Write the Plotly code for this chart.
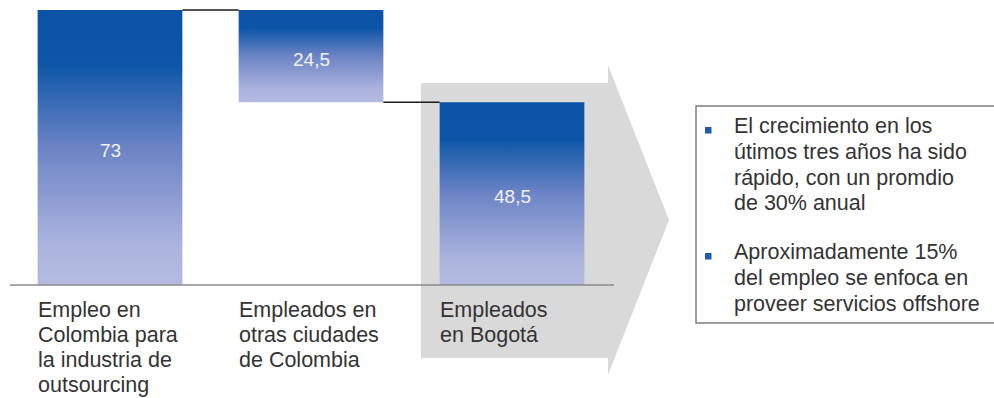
import plotly.graph_objects as go

# --- data -------------------------------------------------------------
categories = [
    ["Empleo en", "Colombia para", "la industria de", "outsourcing"],
    ["Empleados en", "otras ciudades", "de Colombia"],
    ["Empleados", "en Bogotá"],
]
total_colombia = 73
otras_ciudades = 24.5
bogota = 48.5

bullets = [
    ["El crecimiento en los", "útimos tres años ha sido",
     "rápido, con un promdio", "de 30% anual"],
    ["Aproximadamente 15%", "del empleo se enfoca en",
     "proveer servicios offshore"],
]

# waterfall geometry: (base, top) of each bar
bars = [
    (0, total_colombia),
    (total_colombia - otras_ciudades, total_colombia),
    (0, bogota),
]
values = [total_colombia, otras_ciudades, bogota]

W, H = 994, 398
BAR_W = 0.72
FONT = "Liberation Sans, Arial, sans-serif"
TEXT_SIZE = 21.5


def fx(p):
    return p / W


def fy(p):
    return 1 - p / H


def fmt(v):
    return f"{v:g}".replace(".", ",")


grad = [[0.0, "#B3BBE1"], [0.14, "#ACB4DE"], [0.5, "#6C84C5"],
        [0.8, "#0E56A8"], [1.0, "#0A52A5"]]

fig = go.Figure()

# gradient bars
for i, (b, t) in enumerate(bars):
    x0, x1 = i - BAR_W / 2, i + BAR_W / 2
    fig.add_trace(go.Scatter(
        x=[x0, x1, x1, x0, x0], y=[b, b, t, t, b],
        mode="lines", line=dict(width=0), fill="toself",
        fillgradient=dict(type="vertical", colorscale=grad, start=b, stop=t),
        hoverinfo="skip", showlegend=False,
    ))

# connectors between bars
fig.add_trace(go.Scatter(
    x=[0 + BAR_W / 2, 1 - BAR_W / 2], y=[bars[0][1], bars[1][1]],
    mode="lines", line=dict(color="#1a1a1a", width=1.5),
    hoverinfo="skip", showlegend=False))
fig.add_trace(go.Scatter(
    x=[1 + BAR_W / 2, 2 - BAR_W / 2], y=[bars[1][0], bars[2][1]],
    mode="lines", line=dict(color="#1a1a1a", width=1.5),
    hoverinfo="skip", showlegend=False))

annotations = []

# value labels in the middle of each bar
for i, ((b, t), v) in enumerate(zip(bars, values)):
    annotations.append(dict(
        x=i, y=(b + t) / 2, xref="x", yref="y", yshift=-3,
        text=fmt(v), showarrow=False, xanchor="center", yanchor="middle",
        font=dict(family=FONT, size=19, color="#F2F2F8"),
        borderpad=0, borderwidth=0))

shapes = []
# grey arrow behind the Bogotá bar
arrow = [(421, 83), (608, 83), (608, 65), (669, 220), (608, 375),
         (608, 358), (421, 358)]
path = "M " + " L ".join(f"{fx(x):.5f},{fy(y):.5f}" for x, y in arrow) + " Z"
shapes.append(dict(type="path", path=path, xref="paper", yref="paper",
                   fillcolor="#D9D9D9", line=dict(width=0), layer="below"))
# baseline
shapes.append(dict(type="line", xref="paper", yref="y",
                   x0=fx(10), x1=fx(614), y0=0, y1=0,
                   line=dict(color="#8A8A8A", width=1.5), layer="above"))
# text box
shapes.append(dict(type="rect", xref="paper", yref="paper",
                   x0=fx(696), x1=fx(1000), y0=fy(106), y1=fy(323),
                   fillcolor="white", line=dict(color="#7F7F7F", width=1.5),
                   layer="above"))

# category labels under the bars
label_y = [310, 335, 360, 385]
for i, lines in enumerate(categories):
    for j, line in enumerate(lines):
        annotations.append(dict(
            x=i - BAR_W / 2, y=fy(label_y[j]), xref="x", yref="paper",
            text=line, showarrow=False, xanchor="left", yanchor="middle",
            font=dict(family=FONT, size=TEXT_SIZE, color="#333333"),
            borderpad=0, borderwidth=0))

# bullet text
bullet_y = [[126, 152, 178, 203], [252, 278, 304]]
for k, lines in enumerate(bullets):
    y0 = bullet_y[k][0]
    shapes.append(dict(type="rect", xref="paper", yref="paper",
                       x0=fx(705), x1=fx(711.5), y0=fy(y0 + 1), y1=fy(y0 + 7.5),
                       fillcolor="#1F5AB4", line=dict(width=0), layer="above"))
    for j, line in enumerate(lines):
        annotations.append(dict(
            x=fx(734), y=fy(bullet_y[k][j]), xref="paper", yref="paper",
            text=line, showarrow=False, xanchor="left", yanchor="middle",
            font=dict(family=FONT, size=TEXT_SIZE, color="#333333"),
            borderpad=0, borderwidth=0))

px_per_unit = (285 - 10) / total_colombia

fig.update_layout(
    width=W, height=H,
    margin=dict(l=0, r=0, t=0, b=0),
    paper_bgcolor="white", plot_bgcolor="rgba(0,0,0,0)",
    xaxis=dict(range=[-110 / 201, (W - 110) / 201], visible=False,
               fixedrange=True),
    yaxis=dict(range=[-(H - 285) / px_per_unit, 285 / px_per_unit],
               visible=False, fixedrange=True),
    shapes=shapes, annotations=annotations,
    showlegend=False,
)

fig.write_html("out.html", config={"displayModeBar": False})
